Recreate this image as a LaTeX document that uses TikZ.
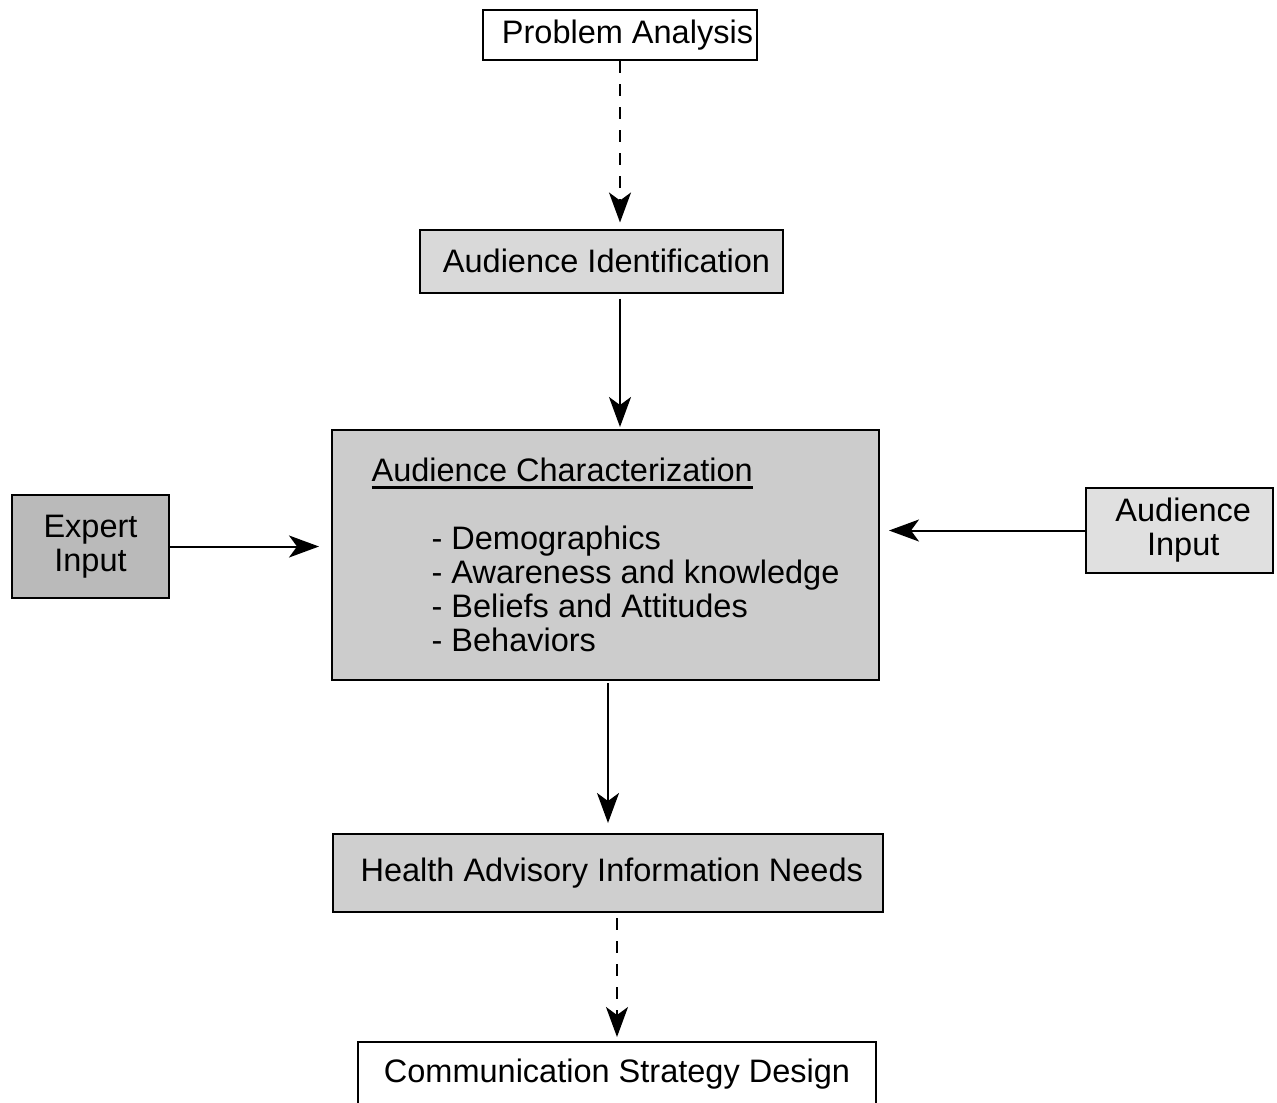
\documentclass[tikz,border=0pt]{standalone}
\usepackage{fontspec}
\setmainfont{Liberation Sans}
\usetikzlibrary{arrows.meta, positioning}
\newcommand{\souligne}[1]{\setbox0\hbox{#1}\rlap{\rule[-1.5mm]{\wd0}{1.7pt}}\box0}
\tikzset{
  boite/.style={
    draw,
    rectangle,
    line width=0.4mm,
    align=center,
    inner sep=0pt,
    font=\fontsize{18.5}{19.3}\selectfont,
  },
  boitegrise/.style={
    boite,
    fill=black!#1
  },
  fleche/.style={
    -{Stealth[length=6mm, width=4.4mm, inset=1.6mm]},
    line width=0.4mm
  },
  pointille/.style={
    fleche,
    dash pattern=on 2.4mm off 2.2mm
  }
}

\begin{document}
\begin{tikzpicture}[x=0.2mm, y=-0.2mm]
  \useasboundingbox (0,0) rectangle (1277,1102);

  % Boites
  \node[boite, fill=white, minimum width=274*0.2mm, minimum height=50*0.2mm] (probleme) at (620,35) {\hspace*{3mm}Problem Analysis};
  \node[boitegrise=15, minimum width=363*0.2mm, minimum height=63*0.2mm] (identif) at (601.5,261) {\hspace*{2mm}Audience Identification};
  \node[boitegrise=20, minimum width=547*0.2mm, minimum height=250*0.2mm, align=left] (caract) at (605.5,555)
    {\souligne{Audience Characterization}\\[19.3pt]
     \hspace*{12mm}- Demographics\\
     \hspace*{12mm}- Awareness and knowledge\\
     \hspace*{12mm}- Beliefs and Attitudes\\
     \hspace*{12mm}- Behaviors\hspace*{2mm}};
  \node[boitegrise=27, minimum width=157*0.2mm, minimum height=103*0.2mm] (expert) at (90.5,546.5) {Expert\\Input};
  \node[boitegrise=12, minimum width=187*0.2mm, minimum height=85*0.2mm] (public) at (1179.5,530.5) {\hspace*{1.5mm}Audience\\\hspace*{1.5mm}Input};
  \node[boitegrise=19, minimum width=550*0.2mm, minimum height=78*0.2mm] (besoins) at (608,873) {\hspace*{1.5mm}Health Advisory Information Needs};
  \node[boite, fill=white, minimum width=518*0.2mm, minimum height=64*0.2mm] (strategie) at (617,1074) {Communication Strategy Design};

  % Fleches
  \draw[pointille, shorten >=1.2mm] (probleme.south) -- (probleme.south |- identif.north);
  \draw[fleche, shorten <=1mm, shorten >=0.4mm] (probleme.south |- identif.south) -- (probleme.south |- caract.north);
  \draw[fleche, shorten >=2.4mm] (expert.east) -- (expert.east -| caract.west);
  \draw[fleche, shorten >=1.8mm] (public.west) -- (public.west -| caract.east);
  \draw[fleche, shorten <=0.4mm, shorten >=2mm] (besoins.north |- caract.south) -- (besoins.north);
  \draw[pointille, shorten <=1mm, shorten >=0.8mm] (strategie.north |- besoins.south) -- (strategie.north);

\end{tikzpicture}
\end{document}
